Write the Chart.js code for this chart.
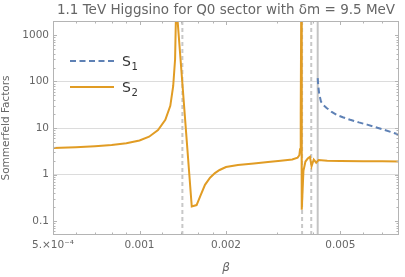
<!DOCTYPE html>
<html>
<head>
<meta charset="utf-8">
<script src="https://cdn.jsdelivr.net/npm/chart.js@4.4.1/dist/chart.umd.min.js"></script>
<style>
  html, body { margin: 0; padding: 0; background: #fff; }
  #wrap { width: 405px; height: 277px; }
</style>
</head>
<body>
<div id="wrap"><canvas id="chart"></canvas></div>
<script>
// S1 only exists above the last threshold
var s1Beta = [0.00417, 0.00419, 0.00422, 0.00428, 0.00437, 0.00448, 0.00465, 0.00487, 0.0051, 0.00541, 0.0058, 0.0062, 0.0066, 0.00708, 0.0075, 0.008];
var s1Values = [118, 80, 55, 37, 31, 27, 22.5, 19, 17, 15, 13.2, 11.8, 10.5, 9.2, 8.2, 7.2];

// S2 over the whole range
var s2Beta = [0.0005, 0.0006, 0.0007, 0.0008, 0.0009, 0.001, 0.00108, 0.00116, 0.00123, 0.00128, 0.00131, 0.00133, 0.001342,
  0.00152, 0.00158, 0.00163, 0.00169, 0.00176, 0.00183, 0.0019, 0.002, 0.0022, 0.0025, 0.0028, 0.0031, 0.0034, 0.00355,
  0.0036, 0.00362, 0.00364, 0.003655, 0.00367, 0.00372, 0.00378, 0.00385, 0.00392, 0.00397, 0.00404, 0.00412, 0.0042,
  0.0045, 0.005, 0.006, 0.007, 0.008];
var s2Values = [3.7, 3.85, 4.05, 4.3, 4.7, 5.4, 6.5, 9, 15, 30, 80, 300, 5000,
  0.205, 0.22, 0.35, 0.6, 0.85, 1.07, 1.25, 1.45, 1.6, 1.72, 1.85, 1.97, 2.1, 2.3,
  2.6, 3.5, 20, 5000, 0.175, 1.2, 1.9, 2.2, 2.4, 1.5, 2.1, 1.8, 2.05,
  1.97, 1.95, 1.93, 1.92, 1.9];

// threshold markers
var dashedBeta = [0.00141, 0.00368, 0.00396];
var solidBeta = [0.00417];

var xMin = 0.0005, xMax = 0.008;
var yMin = 0.05, yMax = 2000;

var xTicks = [0.0005, 0.001, 0.002, 0.005];
var xTickLabels = ["5.×10⁻⁴", "0.001", "0.002", "0.005"];
var xMinorTicks = [0.0006, 0.0007, 0.0008, 0.0009, 0.0012, 0.0014, 0.0016, 0.0018, 0.003, 0.004, 0.006, 0.007];
var yTicks = [0.1, 1, 10, 100, 1000];
var yTickLabels = ["0.1", "1", "10", "100", "1000"];
var yGridLines = [1, 10, 100];

var blue = "#5e81b5";
var orange = "#e19c24";
var frameColor = "#b4b4b4";
var labelColor = "#666666";

function pts(xs, ys) {
    return xs.map(function (x, i) { return { x: x, y: ys[i] }; });
}

var datasets = [
    { label: "S1", data: pts(s1Beta, s1Values), borderColor: blue, borderWidth: 2, borderDash: [6, 3.5] },
    { label: "S2", data: pts(s2Beta, s2Values), borderColor: orange, borderWidth: 2 }
];
dashedBeta.forEach(function (b) {
    datasets.push({ label: "", data: [{ x: b, y: yMin }, { x: b, y: yMax }], borderColor: "#c8c8c8", borderWidth: 2, borderDash: [4, 3] });
});
solidBeta.forEach(function (b) {
    datasets.push({ label: "", data: [{ x: b, y: yMin }, { x: b, y: yMax }], borderColor: "#c4c4c4", borderWidth: 2 });
});
datasets.forEach(function (d) {
    d.showLine = true;
    d.pointRadius = 0;
    d.fill = false;
    d.tension = 0;
    d.clip = 0;
});

// frame with inward ticks, like the original
var framePlugin = {
    id: "frame",
    afterDatasetsDraw: function (chart) {
        var a = chart.chartArea, ctx = chart.ctx;
        var xs = chart.scales.x, ys = chart.scales.y;
        ctx.save();
        ctx.strokeStyle = frameColor;
        ctx.lineWidth = 1;
        ctx.strokeRect(a.left + 0.5, a.top + 0.5, a.right - a.left - 1, a.bottom - a.top - 1);
        ctx.beginPath();
        function xt(v, len) {
            var px = Math.round(xs.getPixelForValue(v)) + 0.5;
            ctx.moveTo(px, a.bottom); ctx.lineTo(px, a.bottom - len);
            ctx.moveTo(px, a.top); ctx.lineTo(px, a.top + len);
        }
        function yt(v, len) {
            var py = Math.round(ys.getPixelForValue(v)) + 0.5;
            ctx.moveTo(a.left, py); ctx.lineTo(a.left + len, py);
            ctx.moveTo(a.right, py); ctx.lineTo(a.right - len, py);
        }
        xTicks.forEach(function (v) { xt(v, 4); });
        xMinorTicks.forEach(function (v) { xt(v, 2.5); });
        yTicks.forEach(function (v) { yt(v, 4); });
        for (var dec = 0.01; dec < 2000; dec *= 10) {
            for (var k = 2; k <= 9; k++) {
                var v = dec * k;
                if (v > yMin && v < yMax) yt(v, 2.5);
            }
        }
        ctx.stroke();
        ctx.restore();
    }
};

// legend inside the plot, with subscripts
var legendPlugin = {
    id: "innerLegend",
    afterDraw: function (chart) {
        var ctx = chart.ctx;
        var rows = [{ ds: chart.data.datasets[0], y: 61, sub: "1" }, { ds: chart.data.datasets[1], y: 87, sub: "2" }];
        ctx.save();
        rows.forEach(function (r) {
            ctx.strokeStyle = r.ds.borderColor;
            ctx.lineWidth = 2;
            ctx.setLineDash(r.ds.borderDash || []);
            ctx.beginPath();
            ctx.moveTo(70, r.y);
            ctx.lineTo(114, r.y);
            ctx.stroke();
            ctx.setLineDash([]);
            ctx.fillStyle = "#333";
            ctx.textBaseline = "alphabetic";
            ctx.font = "14px 'DejaVu Sans'";
            ctx.fillText("S", 122, r.y + 5);
            ctx.font = "10px 'DejaVu Sans'";
            ctx.fillText(r.sub, 131.5, r.y + 9);
        });
        ctx.restore();
    }
};

new Chart(document.getElementById("chart"), {
    type: "scatter",
    data: { datasets: datasets },
    plugins: [framePlugin, legendPlugin],
    options: {
        responsive: true,
        maintainAspectRatio: false,
        animation: false,
        layout: { padding: { left: 0, right: 6, top: 0, bottom: 0 } },
        plugins: {
            legend: { display: false },
            tooltip: { enabled: false },
            title: {
                display: true,
                fullSize: false,
                text: "1.1 TeV Higgsino for Q0 sector with δm = 9.5 MeV",
                color: labelColor,
                font: { family: "'DejaVu Sans'", size: 13.5, weight: "normal" },
                padding: { top: 2.8, bottom: 2 }
            }
        },
        scales: {
            x: {
                type: "logarithmic",
                min: xMin,
                max: xMax,
                afterBuildTicks: function (s) { s.ticks = xTicks.map(function (v) { return { value: v }; }); },
                afterFit: function (s) { s.height = 42; },
                ticks: {
                    autoSkip: false,
                    maxRotation: 0,
                    padding: 4,
                    color: labelColor,
                    font: { family: "'DejaVu Sans'", size: 10.5 },
                    callback: function (v, i) { return xTickLabels[i]; }
                },
                grid: { display: false, drawTicks: false },
                border: { display: false },
                title: {
                    display: true,
                    text: "β",
                    color: labelColor,
                    font: { family: "'DejaVu Sans'", size: 12, style: "italic" },
                    padding: { top: 0, bottom: 2 }
                }
            },
            y: {
                type: "logarithmic",
                min: yMin,
                max: yMax,
                afterBuildTicks: function (s) { s.ticks = yTicks.map(function (v) { return { value: v }; }); },
                afterFit: function (s) { s.width = 53; },
                ticks: {
                    autoSkip: false,
                    padding: 4,
                    color: labelColor,
                    font: { family: "'DejaVu Sans'", size: 10.5 },
                    callback: function (v, i) { return yTickLabels[i]; }
                },
                grid: {
                    drawTicks: false,
                    lineWidth: 1,
                    color: function (c) {
                        return c.tick && yGridLines.indexOf(c.tick.value) >= 0 ? "#dcdcdc" : "rgba(0,0,0,0)";
                    }
                },
                border: { display: false },
                title: {
                    display: true,
                    text: "Sommerfeld Factors",
                    color: labelColor,
                    font: { family: "'DejaVu Sans'", size: 10.5 },
                    padding: { top: 0, bottom: 0 }
                }
            }
        }
    }
});
</script>
</body>
</html>
